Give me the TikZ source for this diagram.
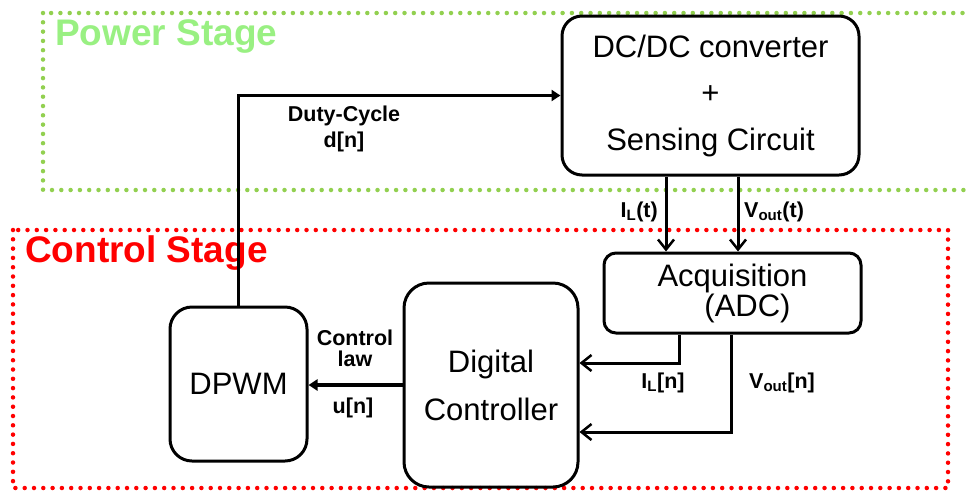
\documentclass[tikz,border=0pt]{standalone}
\usepackage{fontspec}
\setmainfont{Liberation Sans}
\usetikzlibrary{arrows.meta, positioning}

\definecolor{pwrgreen}{RGB}{146,208,80}
\definecolor{pwrtext}{RGB}{153,240,130}
\definecolor{ctlred}{RGB}{255,0,0}

\begin{document}
\begin{tikzpicture}[
	x=1pt, y=-1pt,
	block/.style={draw, line width=3pt, rounded corners=20pt, align=center, inner sep=0pt,
		font=\fontsize{31}{46.5}\selectfont},
	sig/.style={line width=3pt},
	lbl/.style={font=\bfseries\fontsize{21.5}{26}\selectfont, align=center, inner sep=0pt},
	stage/.style={dash pattern=on 0pt off 9.3pt, line cap=round, line width=4.5pt},
	stagelbl/.style={anchor=base west, inner sep=0pt, font=\bfseries\fontsize{37}{44}\selectfont},
	opentip/.style={-{Straight Barb[length=10pt,width=16pt,line width=2.5pt]}},
	filltip/.style={-{Triangle[length=9pt,width=11pt]}}
]
\useasboundingbox (0,0) rectangle (966,491);

% stages
\draw[stage, pwrgreen] (43,13) rectangle (1000,190);
\draw[stage, ctlred] (13,230) rectangle (948,488);
\node[stagelbl, text=pwrtext] (pwrlbl) at (55,45) {Power Stage};
\node[stagelbl, text=ctlred] (ctllbl) at (25,262) {Control Stage};

% blocks
\node[block, minimum width=297pt, minimum height=159pt] (conv) at (710.5,95.5) {DC/DC converter\\+\\Sensing Circuit};
\node[block, rounded corners=12pt, minimum width=257pt, minimum height=80pt,
	font=\fontsize{31}{30}\selectfont] (acq) at (732.5,293) {Acquisition\\\hspace*{30pt}(ADC)};
\node[block, rounded corners=25pt, minimum width=174pt, minimum height=204pt,
	font=\fontsize{31}{48}\selectfont] (ctrl) at (491,385) {Digital\\Controller};
\node[block, rounded corners=22pt, minimum width=137pt, minimum height=154pt] (dpwm) at (238.5,384) {DPWM};

% connectors
\draw[sig, filltip] (dpwm.north) |- (conv.west);
\draw[sig, opentip] ([xshift=-44.5pt]conv.south) -- ([xshift=-44.5pt]conv.south |- acq.north);
\draw[sig, opentip] ([xshift=27.5pt]conv.south) -- ([xshift=27.5pt]conv.south |- acq.north);
\draw[sig, opentip] ([xshift=-53.5pt]acq.south) |- ([yshift=22pt]ctrl.east);
\draw[sig, opentip] ([xshift=-1.5pt]acq.south) |- ([yshift=-47pt]ctrl.east);
\draw[line width=4.5pt, filltip] (ctrl.west) -- (ctrl.west -| dpwm.east);

% labels
\node[lbl] (duty) at (344,129) {Duty-Cycle\\d[n]};
\node[lbl, font=\bfseries\fontsize{21.5}{21}\selectfont] (law) at (355,348) {Control\\law};
\node[lbl] (un) at (353,408) {u[n]};
\node[lbl, anchor=east] (ilt) at (658,212) {I\textsubscript{L}(t)};
\node[lbl, anchor=west] (vot) at (744,212) {V\textsubscript{out}(t)};
\node[lbl] (iln) at (663,383) {I\textsubscript{L}[n]};
\node[lbl] (von) at (782,383) {V\textsubscript{out}[n]};
\end{tikzpicture}
\end{document}
